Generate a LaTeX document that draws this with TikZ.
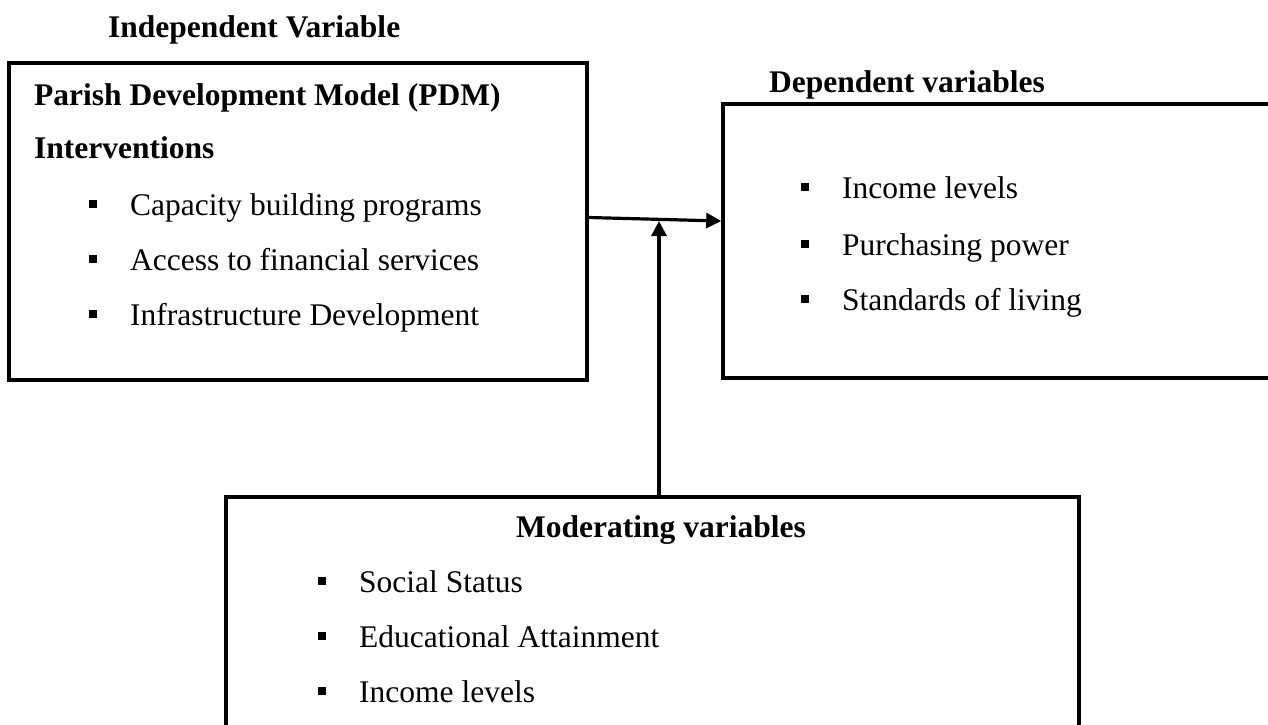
\documentclass[tikz,border=0pt]{standalone}
\usepackage{fontspec}
\setmainfont{Liberation Serif}
\usetikzlibrary{arrows.meta,calc}
\tikzset{
  box/.style={draw,line width=3.5pt,rectangle,inner sep=0pt},
  txt/.style={anchor=base west,inner sep=0pt,font=\fontsize{31.5}{36}\selectfont},
  head/.style={txt,font=\fontsize{31.5}{36}\selectfont\bfseries},
  conn/.style={line width=3.2pt,-{Triangle[length=15pt,width=15pt]}},
}
\newcommand{\bul}[1]{\fill ($(#1.base west)+(-41,-15)$) rectangle ++(8,8);}
\begin{document}
\begin{tikzpicture}[x=1pt,y=-1pt]
\useasboundingbox (0,0) rectangle (1268,724);
\clip (0,0) rectangle (1268,724);
% boxes
\node[box,minimum width=578pt,minimum height=317pt] (ind) at (298,221.5) {};
\node[box,minimum width=600pt,minimum height=274pt] (dep) at (1023,241) {};
\node[box,minimum width=853pt,minimum height=280pt] (mod) at (652.5,637) {};
% titles
\node[head] (tind) at (108,37) {Independent Variable};
\node[head] (tdep) at (769,92) {Dependent variables};
\node[head,anchor=base] (tmod) at (661,537) {Moderating variables};
% independent box
\node[head] (p1) at (34,105) {Parish Development Model (PDM)};
\node[head] (p2) at (34,158) {Interventions};
\node[txt] (i1) at (130,215) {Capacity building programs};
\node[txt] (i2) at (130,270) {Access to financial services};
\node[txt] (i3) at (130,325) {Infrastructure Development};
\bul{i1}\bul{i2}\bul{i3}
% dependent box
\node[txt] (d1) at (842,198) {Income levels};
\node[txt] (d2) at (842,255) {Purchasing power};
\node[txt] (d3) at (842,310) {Standards of living};
\bul{d1}\bul{d2}\bul{d3}
% moderating box
\node[txt] (m1) at (359,592) {Social Status};
\node[txt] (m2) at (359,647) {Educational Attainment};
\node[txt] (m3) at (359,702) {Income levels};
\bul{m1}\bul{m2}\bul{m3}
% connectors
\coordinate (a0) at ($(ind.east)+(0,-4)$);
\coordinate (a1) at (dep.west |- 0,221);
\draw[conn] (a0) -- (a1);
\coordinate (v0) at (mod.north -| 659,0);
\coordinate (v1) at (659,221);
\draw[conn] (v0) -- (v1);
\end{tikzpicture}
\end{document}
